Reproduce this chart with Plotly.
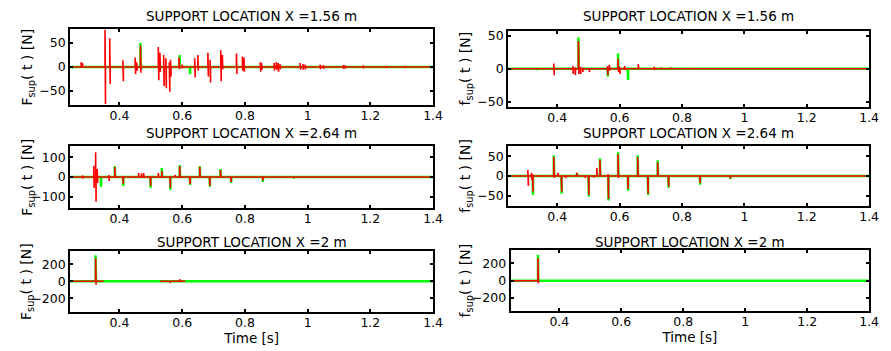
import plotly.graph_objects as go

# ---------------- data ----------------
T0, T1 = 0.243, 1.4

titles = ["SUPPORT LOCATION X =1.56 m", "SUPPORT LOCATION X =1.56 m",
          "SUPPORT LOCATION X =2.64 m", "SUPPORT LOCATION X =2.64 m",
          "SUPPORT LOCATION X =2 m", "SUPPORT LOCATION X =2 m"]
ylabels = ["F<sub>sup</sub>( t ) [N]", "f<sub>sup</sub>( t ) [N]"] * 3
xlabel = "Time [s]"
xticks = [0.4, 0.6, 0.8, 1.0, 1.2, 1.4]
xticklabels = ["0.4", "0.6", "0.8", "1", "1.2", "1.4"]
yticks = [[-50, 0, 50], [-50, 0, 50], [-100, 0, 100], [-50, 0, 50],
          [-200, 0, 200], [-200, 0, 200]]
yranges = [[-79, 79], [-57.5, 57.5], [-157, 157], [-76, 76], [-355, 355], [-355, 355]]

# panel 1 (F, X=1.56) red spikes: time, max, min
p1_red_t = [0.278, 0.282, 0.354, 0.369, 0.411, 0.450, 0.455, 0.467, 0.524, 0.529, 0.541,
            0.548, 0.559, 0.563, 0.590, 0.600, 0.640, 0.650, 0.682, 0.689, 0.723, 0.728,
            0.773, 0.792, 0.797, 0.849, 0.853, 0.893, 0.900, 0.906, 0.912, 0.976, 0.985,
            0.992, 1.040, 1.050, 1.114, 1.120, 1.177, 1.250, 1.310]
p1_red_hi = [10, 8, 78, 60, 14, 20, 10, 45, 42, 30, 25, 18, 10, 15, 20, 5, 18, 25, 30, 15,
             35, 25, 28, 22, 20, 10, 8, 8, 10, 8, 6, 8, 6, 5, 5, 4, 4, 3, 3, 2, 2]
p1_red_lo = [-2, -1, -78, -36, -30, -15, -8, -12, -28, -10, -40, -45, -52, -20, -5, -3, -22,
             -8, -20, -33, -30, -5, -15, -8, -10, -10, -6, -8, -6, -10, -5, -6, -6, -5, -5,
             -4, -4, -3, -3, -2, -2]
p1_grn_t = [0.250, 0.467, 0.592, 0.624]
p1_grn_hi = [0, 50, 25, 2]
p1_grn_lo = [-3, -5, -3, -15]

# panel 2 (f, X=1.56)
p2_red_t = [0.389, 0.450, 0.457, 0.468, 0.474, 0.481, 0.502, 0.561, 0.567, 0.595, 0.600,
            0.616, 0.660, 0.711, 0.732, 0.764, 0.833]
p2_red_hi = [8, 4, 2, 42, 3, 2, 1, 4, 6, 15, 3, 4, 7, 3, 2, 2, 1]
p2_red_lo = [-10, -8, -10, -8, -8, -5, -5, -10, -3, -5, -8, -2, -1, -2, -1, -1, -1]
p2_grn_t = [0.335, 0.468, 0.561, 0.595, 0.626]
p2_grn_hi = [0, 48, 0, 23, 0]
p2_grn_lo = [-2, 0, -12, 0, -17]

# panel 3 (F, X=2.64)
p3_red_t = [0.282, 0.318, 0.324, 0.329, 0.366, 0.385, 0.411, 0.440, 0.461, 0.470, 0.477,
            0.498, 0.524, 0.535, 0.561, 0.577, 0.592, 0.624, 0.656, 0.687, 0.722, 0.755,
            0.856, 0.956]
p3_red_hi = [8, 55, 125, 40, 10, 50, 5, 5, 20, 18, 20, 5, 20, 30, 5, 10, 55, 3, 50, 3, 35,
             2, 2, 1]
p3_red_lo = [-8, -55, -125, -30, -20, -5, -35, 0, -3, 0, -5, -45, 0, -5, -55, 0, -5, -35,
             -3, -45, -2, -25, -18, -5]
p3_grn_t = [0.340, 0.385, 0.411, 0.498, 0.535, 0.561, 0.592, 0.624, 0.656, 0.687, 0.722,
            0.755, 0.856, 0.956]
p3_grn_hi = [0, 55, 0, 0, 45, 0, 60, 0, 55, 0, 40, 0, 0, 0]
p3_grn_lo = [-50, 0, -45, -55, 0, -65, 0, -40, 0, -50, 0, -30, -25, -8]

# panel 4 (f, X=2.64)
p4_red_t = [0.267, 0.306, 0.317, 0.321, 0.334, 0.389, 0.402, 0.413, 0.426, 0.463, 0.489,
            0.500, 0.516, 0.527, 0.537, 0.563, 0.595, 0.626, 0.658, 0.690, 0.722, 0.756,
            0.857, 0.954]
p4_red_hi = [1, 15, 8, 5, 2, 48, 8, 2, 0, 8, 0, 2, 0, 20, 40, 5, 55, 2, 48, 2, 35, 2, 2, 0]
p4_red_lo = [-2, -25, -10, -40, -2, -5, -2, -40, -5, 0, -5, -48, -4, 0, -2, -58, -5, -33,
             -3, -45, -2, -27, -18, -6]
p4_grn_t = [0.321, 0.389, 0.413, 0.463, 0.500, 0.537, 0.563, 0.595, 0.626, 0.658, 0.690,
            0.722, 0.756, 0.857, 0.954]
p4_grn_hi = [0, 52, 0, 8, 0, 45, 0, 60, 0, 52, 0, 40, 0, 0, 0]
p4_grn_lo = [-48, 0, -45, 0, -52, 0, -62, 0, -37, 0, -48, 0, -30, -22, -8]

# panel 5 (F, X=2)
p5_red_t = [0.324, 0.561, 0.592]
p5_red_hi = [270, 0, 25]
p5_red_lo = [-40, -20, -5]
p5_red_segments = [[0.243, 0.350], [0.530, 0.610]]
p5_grn_t = [0.324]
p5_grn_hi = [305]
p5_grn_lo = [-5]

# panel 6 (f, X=2)
p6_red_t = [0.331]
p6_red_hi = [260]
p6_red_lo = [-30]
p6_red_segments = [[0.243, 0.336]]
p6_grn_t = [0.331]
p6_grn_hi = [300]
p6_grn_lo = [-5]

panels = [
    (p1_red_t, p1_red_hi, p1_red_lo, [[T0, T1]], p1_grn_t, p1_grn_hi, p1_grn_lo),
    (p2_red_t, p2_red_hi, p2_red_lo, [[T0, T1]], p2_grn_t, p2_grn_hi, p2_grn_lo),
    (p3_red_t, p3_red_hi, p3_red_lo, [[T0, T1]], p3_grn_t, p3_grn_hi, p3_grn_lo),
    (p4_red_t, p4_red_hi, p4_red_lo, [[T0, T1]], p4_grn_t, p4_grn_hi, p4_grn_lo),
    (p5_red_t, p5_red_hi, p5_red_lo, p5_red_segments, p5_grn_t, p5_grn_hi, p5_grn_lo),
    (p6_red_t, p6_red_hi, p6_red_lo, p6_red_segments, p6_grn_t, p6_grn_hi, p6_grn_lo),
]


def build(ts, his, los, segments):
    xs, ys = [], []
    events = sorted(zip(ts, his, los))
    for a, b in segments:
        xs.append(a); ys.append(0)
        for t, h, l in events:
            if a <= t <= b:
                xs += [t, t, t + 0.0015, t + 0.0015]
                ys += [0, h, l, 0]
        xs.append(b); ys.append(0)
        xs.append(None); ys.append(None)
    return xs, ys


# ---------------- layout geometry (pixels) ----------------
W, H = 891, 351
# (left, right, top, bottom) in pixels for each panel
boxes = [(71, 438, 26.7, 103), (514, 879, 28.3, 105),
         (71, 438, 145, 208), (514, 879, 145, 206),
         (71, 438, 251.7, 313), (516.5, 879, 250.7, 312.7)]
title_y = [13, 13, 131.5, 131.5, 242.5, 242.5]

FONT = "DejaVu Sans"
TICK = 12.5
fig = go.Figure()
annotations = []
for i, (rt, rh, rl, segs, gt, gh, gl) in enumerate(panels):
    k = "" if i == 0 else str(i + 1)
    gx, gy = build(gt, gh, gl, [[T0, T1]])
    rx, ry = build(rt, rh, rl, segs)
    fig.add_trace(go.Scatter(x=gx, y=gy, mode="lines", line=dict(color="#00ff00", width=2.4),
                             xaxis="x" + k, yaxis="y" + k, showlegend=False, hoverinfo="skip"))
    fig.add_trace(go.Scatter(x=rx, y=ry, mode="lines", line=dict(color="#ff0000", width=1.6),
                             xaxis="x" + k, yaxis="y" + k, showlegend=False, hoverinfo="skip"))
    l, r, t, b = boxes[i]
    xa = dict(
        domain=[l / W, r / W], anchor="y" + k, range=[T0, T1],
        tickvals=xticks, ticktext=xticklabels, ticks="inside", ticklen=3, tickwidth=1.5,
        tickcolor="black", showline=True, linecolor="black", linewidth=2, mirror="ticks",
        showgrid=False, zeroline=False, ticklabelstandoff=-2,
        tickfont=dict(family=FONT, size=TICK, color="black"))
    if i >= 4:
        xa["title"] = dict(text=xlabel, font=dict(family=FONT, size=13.5, color="black"),
                           standoff=0)
    fig.layout["xaxis" + k] = xa
    fig.layout["yaxis" + k] = dict(
        domain=[1 - b / H, 1 - t / H], anchor="x" + k, range=yranges[i],
        tickvals=yticks[i], ticks="inside", ticklen=3, tickwidth=1.5, tickcolor="black",
        showline=True, linecolor="black", linewidth=2, mirror="ticks",
        showgrid=False, zeroline=False, tickfont=dict(family=FONT, size=TICK, color="black"))
    annotations.append(dict(text=titles[i], x=(l + r) / 2 / W, y=1 - title_y[i] / H,
                            xref="paper", yref="paper", showarrow=False,
                            xanchor="center", yanchor="middle",
                            font=dict(family=FONT, size=13.5, color="black")))
    lx = 28 if i % 2 == 0 else 28 + 443
    annotations.append(dict(text=ylabels[i], x=lx / W, y=1 - (t + b) / 2 / H,
                            xref="paper", yref="paper", showarrow=False, textangle=-90,
                            xanchor="center", yanchor="middle",
                            font=dict(family=FONT, size=14, color="black")))

fig.update_layout(width=W, height=H, margin=dict(l=0, r=0, t=0, b=0),
                  paper_bgcolor="white", plot_bgcolor="white",
                  annotations=annotations, showlegend=False)
fig.write_html("out.html", config={"displayModeBar": False},
               post_script="document.body.style.margin='0';")
